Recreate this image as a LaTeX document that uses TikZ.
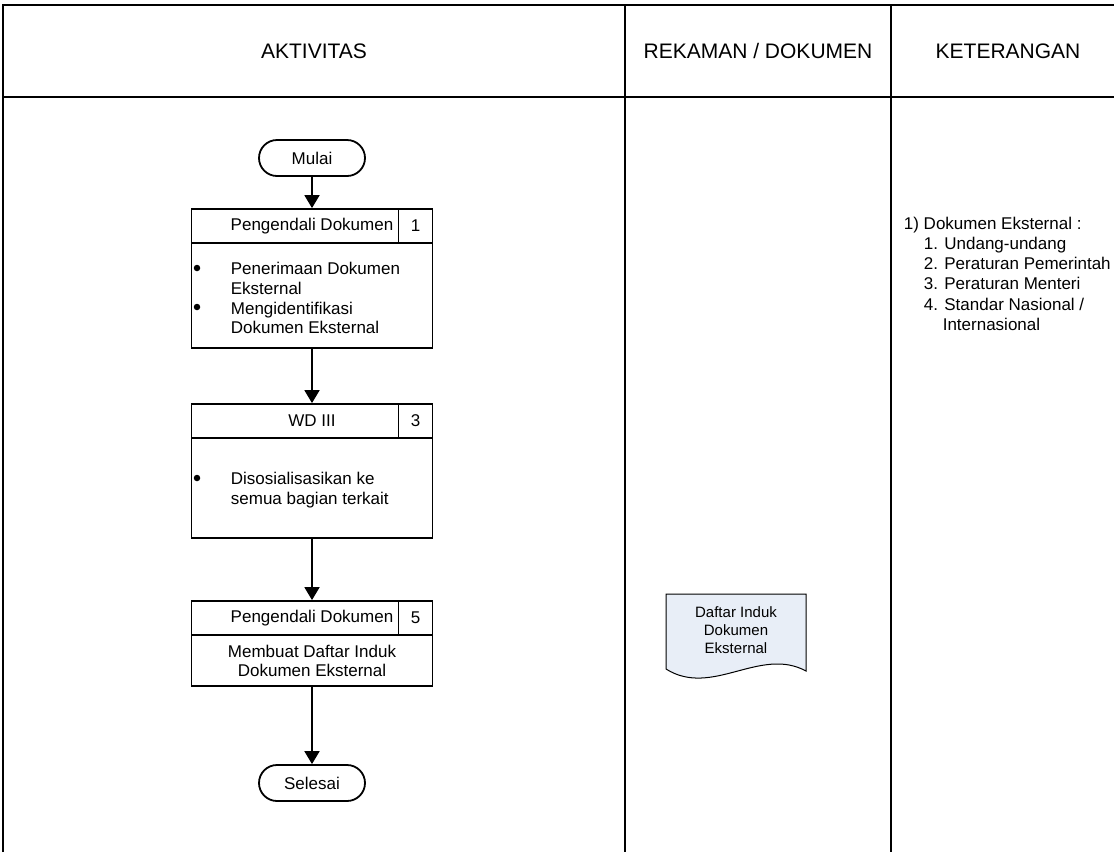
\documentclass[tikz,border=0pt]{standalone}
\usepackage{fontspec}
\setmainfont{Liberation Sans}
\usepackage{xcolor}
\usetikzlibrary{arrows.meta,positioning}
\definecolor{docfill}{HTML}{E8EEF7}

\begin{document}
\begin{tikzpicture}[
    x=1pt, y=-1pt,
    line width=1.8pt,
    every node/.style={inner sep=0pt, font=\fontsize{17}{19.7}\selectfont},
    headtext/.style={font=\fontsize{21}{24}\selectfont},
    terminal/.style={draw, rounded corners=18pt, minimum width=106pt, minimum height=36pt},
    actbox/.style={draw, minimum width=241pt},
    acthead/.style={draw, minimum width=241pt, minimum height=34pt, anchor=north},
    actnum/.style={draw, minimum width=34pt, minimum height=34pt, anchor=north east},
    dot/.style={circle, fill, minimum size=6.5pt},
    flow/.style={-{Triangle[length=13pt,width=15pt]}}
]
\useasboundingbox (0,0) rectangle (1114,852);

% table frame
\draw (3,852) -- (3,5) -- (1114,5);
\draw (3,97) -- (1114,97);
\draw (625,5) -- (625,852);
\draw (891,5) -- (891,852);

\node[headtext] (hAktivitas) at (314,51) {AKTIVITAS};
\node[headtext] (hRekaman) at (758,51) {REKAMAN / DOKUMEN};
\node[headtext] (hKeterangan) at (1008,51) {KETERANGAN};

% flow
\node[terminal] (mulai) at (312,158) {Mulai};

\node[actbox, minimum height=139pt] (box1) at (312,278.5) {};
\node[acthead] (box1h) at (box1.north) {Pengendali Dokumen};
\node[actnum] (box1n) at (box1.north east) {1};
\node[dot] (b1a) at (197,268) {};
\node[dot] (b1b) at (197,307) {};
\node[anchor=north west, align=left] (box1t) at (230,261.5)
    {Penerimaan Dokumen\\Eksternal\\Mengidentifikasi\\Dokumen Eksternal};

\node[actbox, minimum height=134pt] (box3) at (312,471) {};
\node[acthead] (box3h) at (box3.north) {WD III};
\node[actnum] (box3n) at (box3.north east) {3};
\node[dot] (b3a) at (197,478) {};
\node[anchor=north west, align=left] (box3t) at (230,471.5)
    {Disosialisasikan ke\\semua bagian terkait};

\node[actbox, minimum height=85pt] (box5) at (312,643.5) {};
\node[acthead] (box5h) at (box5.north) {Pengendali Dokumen};
\node[actnum] (box5n) at (box5.north east) {5};
\node[align=center] (box5t) at (312,661)
    {Membuat Daftar Induk\\Dokumen Eksternal};

\node[terminal] (selesai) at (312,783) {Selesai};

\draw[flow] (mulai) -- (box1);
\draw[flow] (box1) -- (box3);
\draw[flow] (box3) -- (box5);
\draw[flow] (box5) -- (selesai);

% record
\draw[fill=docfill, line width=1pt] (666,594) -- (806,594) -- (806,671)
    .. controls (760,646) and (712,698) .. (666,669) -- cycle;
\node[align=center, font=\fontsize{15}{18}\selectfont] (docDaftar) at (736,630)
    {Daftar Induk\\Dokumen\\Eksternal};

% keterangan
\node[anchor=north west, align=left, font=\fontsize{17}{20.2}\selectfont] (ket) at (903,216)
    {1) Dokumen Eksternal :\\
     \hspace*{20pt}1. Undang-undang\\
     \hspace*{20pt}2. Peraturan Pemerintah\\
     \hspace*{20pt}3. Peraturan Menteri\\
     \hspace*{20pt}4. Standar Nasional /\\
     \hspace*{20pt}\phantom{4.}\ Internasional};
\end{tikzpicture}
\end{document}
